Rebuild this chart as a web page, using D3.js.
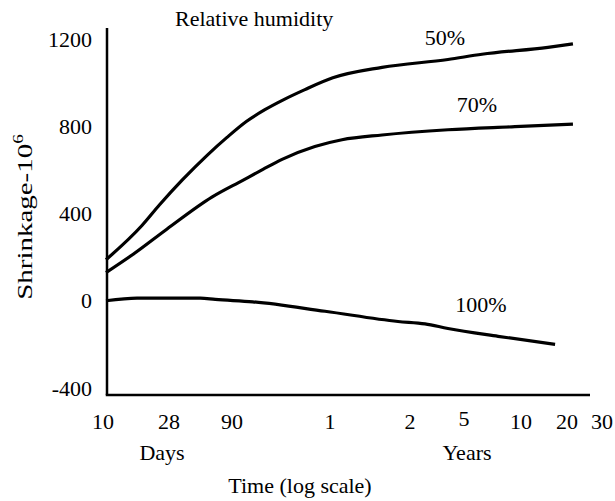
<!DOCTYPE html>
<html>
<head>
<meta charset="utf-8">
<script src="https://cdn.jsdelivr.net/npm/d3@7"></script>
<style>
  html, body { margin: 0; padding: 0; background: #fff; }
  svg { display: block; }
  text { font-family: "Liberation Serif", "Times New Roman", serif; fill: #000; }
</style>
</head>
<body>
<svg id="chart" width="615" height="501"></svg>
<script>
// ---- data (time in days, shrinkage in 10^-6) ----
const xTickDays   = [10, 28, 90, 365, 730, 1825, 3650, 7300, 10950];
const xTickLabels = ["10", "28", "90", "1", "2", "5", "10", "20", "30"];
const yTicks      = [-400, 0, 400, 800, 1200];

const rh50Days  = [10, 18, 24, 36, 57, 82, 111, 144, 186, 255, 374, 573, 1390, 2270, 5480, 7820];
const rh50Vals  = [188, 345, 440, 555, 668, 749, 823, 876, 920, 968, 1022, 1070, 1106, 1130, 1162, 1178];

const rh70Days  = [10, 15.5, 27, 62, 105, 140, 184, 294, 405, 573, 1390, 3390, 7820];
const rh70Vals  = [129, 212, 328, 475, 552, 602, 648, 707, 738, 760, 784, 798, 810];

const rh100Days = [10, 16.6, 50, 66, 121, 340, 658, 942, 1390, 2762, 6100];
const rh100Vals = [0, 12, 12, 6, -5, -48, -95, -106, -127, -163, -200];

const seriesLabels = ["50%", "70%", "100%"];
const seriesLabelDays = [1321, 2137, 2245];
const seriesLabelVals = [1172, 865, -52];

// ---- layout ----
const svg = d3.select("#chart");
const axisX = 107, axisTop = 28, axisBottom = 395, axisRight = 590;
const fs = 22;

// piecewise log scale (the original's time axis is a sketched log scale)
const x = d3.scaleLog()
  .domain(xTickDays)
  .range([106, 169, 232, 330, 410, 464, 521, 567, 602]);
const y = d3.scaleLinear().domain([-400, 1200]).range([388, 39]);

// axes lines
svg.append("line").attr("x1", axisX).attr("x2", axisX)
  .attr("y1", axisTop).attr("y2", axisBottom)
  .attr("stroke", "#000").attr("stroke-width", 2.5);
svg.append("line").attr("x1", axisX - 1.25).attr("x2", axisRight)
  .attr("y1", axisBottom).attr("y2", axisBottom)
  .attr("stroke", "#000").attr("stroke-width", 2.5);

// y tick labels
svg.append("g").selectAll("text").data(yTicks).join("text")
  .attr("x", 92).attr("y", d => y(d)).attr("dy", "0.35em")
  .attr("text-anchor", "end").attr("font-size", fs)
  .text(d => d);

// x tick labels
svg.append("g").selectAll("text").data(xTickDays).join("text")
  .attr("x", (d, i) => x(d) - (i === 0 ? 3 : 0))
  .attr("y", (d, i) => xTickLabels[i] === "5" ? 426 : 429)
  .attr("text-anchor", "middle").attr("font-size", fs)
  .text((d, i) => xTickLabels[i]);

svg.append("text").attr("x", 162).attr("y", 460).attr("text-anchor", "middle")
  .attr("font-size", fs).text("Days");
svg.append("text").attr("x", 467).attr("y", 460).attr("text-anchor", "middle")
  .attr("font-size", fs).text("Years");
svg.append("text").attr("x", 300).attr("y", 493).attr("text-anchor", "middle")
  .attr("font-size", fs).text("Time (log scale)");

// y title (stretched along its length as in the original)
const yt = svg.append("text")
  .attr("transform", "translate(32,217) rotate(-90) scale(1.38,1)")
  .attr("text-anchor", "middle").attr("font-size", 21);
yt.append("tspan").text("Shrinkage-10");
yt.append("tspan").attr("dy", -9).attr("font-size", 14).text("6");

// top title
svg.append("text").attr("x", 175).attr("y", 26).attr("font-size", fs)
  .text("Relative humidity");

// curves
const line = d3.line().x(d => x(d[0])).y(d => y(d[1])).curve(d3.curveMonotoneX);
const series = [
  d3.zip(rh50Days, rh50Vals),
  d3.zip(rh70Days, rh70Vals),
  d3.zip(rh100Days, rh100Vals)
];
svg.append("g").selectAll("path").data(series).join("path")
  .attr("d", line).attr("fill", "none")
  .attr("stroke", "#000").attr("stroke-width", 3.2)
  .attr("stroke-linejoin", "round");

// series labels
svg.append("g").selectAll("text").data(seriesLabels).join("text")
  .attr("x", (d, i) => x(seriesLabelDays[i])).attr("y", (d, i) => y(seriesLabelVals[i]))
  .attr("text-anchor", "middle").attr("font-size", fs)
  .text(d => d);
</script>
</body>
</html>
